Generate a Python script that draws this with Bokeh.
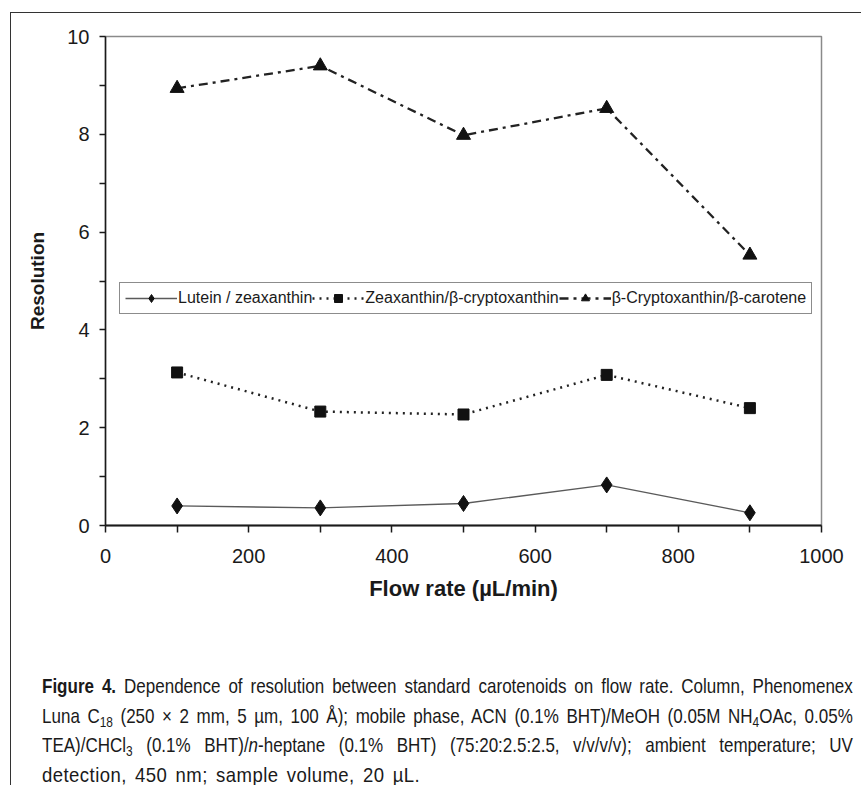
from bokeh.plotting import figure
from bokeh.models import FixedTicker, Legend, LegendItem, Div
from bokeh.layouts import column
from bokeh.embed import file_html
from bokeh.resources import INLINE

# Resolution between neighbouring carotenoid peaks at each flow rate
flow_rate = [100, 300, 500, 700, 900]
lutein_zeaxanthin = [0.40, 0.36, 0.45, 0.83, 0.26]
zeaxanthin_cryptoxanthin = [3.13, 2.33, 2.27, 3.08, 2.40]
cryptoxanthin_carotene = [8.94, 9.40, 7.98, 8.53, 5.53]

series_labels = [
    "Lutein / zeaxanthin",
    "Zeaxanthin/\u03b2-cryptoxanthin",
    "\u03b2-Cryptoxanthin/\u03b2-carotene",
]

x_major = [0, 200, 400, 600, 800, 1000]
x_minor = [100, 300, 500, 700, 900]
y_major = [0, 2, 4, 6, 8, 10]
y_minor = [1, 3, 5, 7, 9]

FONT = "Liberation Sans"

p = figure(
    width=850, height=615,
    x_range=(0, 1000), y_range=(0, 10),
    output_backend="svg", toolbar_location=None,
    min_border_left=94, min_border_right=40,
    min_border_top=23, min_border_bottom=103,
    background_fill_color="white", border_fill_color="white",
)
p.xgrid.visible = False
p.ygrid.visible = False
p.outline_line_color = "#8a8a8a"
p.outline_line_width = 1.5

# x axis
xa = p.xaxis[0]
xa.ticker = FixedTicker(ticks=x_major, minor_ticks=x_minor)
xa.axis_label = "Flow rate (\u00b5L/min)"
xa.axis_label_text_font = FONT
xa.axis_label_text_font_style = "bold"
xa.axis_label_text_font_size = "22px"
xa.axis_label_text_color = "#1a1a1a"
xa.axis_label_standoff = 10
xa.major_label_text_font = FONT
xa.major_label_text_font_size = "20px"
xa.major_label_text_color = "#1a1a1a"
xa.major_label_standoff = 16
xa.axis_line_color = "#1a1a1a"
xa.axis_line_width = 2.2
xa.major_tick_line_color = "#1a1a1a"
xa.minor_tick_line_color = "#1a1a1a"
xa.major_tick_line_width = 1.5
xa.minor_tick_line_width = 1.5
xa.major_tick_in = 0
xa.major_tick_out = 7
xa.minor_tick_in = 0
xa.minor_tick_out = 7

# y axis
ya = p.yaxis[0]
ya.ticker = FixedTicker(ticks=y_major, minor_ticks=y_minor)
ya.axis_label = "Resolution"
ya.axis_label_text_font = FONT
ya.axis_label_text_font_style = "bold"
ya.axis_label_text_font_size = "19px"
ya.axis_label_text_color = "#1a1a1a"
ya.axis_label_standoff = 16
ya.major_label_text_font = FONT
ya.major_label_text_font_size = "20px"
ya.major_label_text_color = "#1a1a1a"
ya.major_label_standoff = 10
ya.axis_line_color = "#1a1a1a"
ya.axis_line_width = 1.5
ya.major_tick_line_color = "#1a1a1a"
ya.minor_tick_line_color = "#1a1a1a"
ya.major_tick_line_width = 1.5
ya.minor_tick_line_width = 1.5
ya.major_tick_in = 0
ya.major_tick_out = 6
ya.minor_tick_in = 0
ya.minor_tick_out = 6

# series
l1 = p.line(flow_rate, lutein_zeaxanthin, line_color="#5a5a5a", line_width=1.3)
m1 = p.scatter(flow_rate, lutein_zeaxanthin, marker="diamond", size=16,
               fill_color="#111111", line_color="#111111")
l2 = p.line(flow_rate, zeaxanthin_cryptoxanthin, line_color="#222222",
            line_width=2.5, line_dash="2 5")
m2 = p.scatter(flow_rate, zeaxanthin_cryptoxanthin, marker="square", size=11,
               fill_color="#111111", line_color="#111111")
l3 = p.line(flow_rate, cryptoxanthin_carotene, line_color="#222222",
            line_width=2.3, line_dash="9 5 3 5")
m3 = p.scatter(flow_rate, cryptoxanthin_carotene, marker="triangle", size=14,
               fill_color="#111111", line_color="#111111")

legend = Legend(
    items=[
        LegendItem(label=series_labels[0], renderers=[l1, m1]),
        LegendItem(label=series_labels[1], renderers=[l2, m2]),
        LegendItem(label=series_labels[2], renderers=[l3, m3]),
    ],
    orientation="horizontal",
    location=(14, 211),
    label_text_font=FONT,
    label_text_font_style="normal",
    label_text_font_size="16px",
    label_text_color="#1a1a1a",
    glyph_width=52,
    glyph_height=20,
    label_standoff=1,
    spacing=0,
    padding=5,
    margin=0,
    border_line_color="#1a1a1a",
    border_line_width=1.5,
    background_fill_color="white",
    background_fill_alpha=1.0,
)
p.add_layout(legend)

caption_lines = [
    "<b>Figure 4.</b> Dependence of resolution between standard carotenoids on flow rate. Column, Phenomenex",
    "Luna C<sub>18</sub> (250 \u00d7 2 mm, 5 \u00b5m, 100 \u00c5); mobile phase, ACN (0.1% BHT)/MeOH (0.05M NH<sub>4</sub>OAc, 0.05%",
    "TEA)/CHCl<sub>3</sub> (0.1% BHT)/<i>n</i>-heptane (0.1% BHT) (75:20:2.5:2.5, v/v/v/v); ambient temperature; UV",
    "detection, 450 nm; sample volume, 20 \u00b5L.",
]

# The caption face is a narrow one: a regular sans set large, then squeezed
# horizontally so the justified block is 811 px across.
SQUEEZE = 0.81
inner_width = round(811 / SQUEEZE)

line_style = (
    "white-space:nowrap; text-align:justify; text-align-last:justify; "
    "height:29.5px; line-height:29.5px;"
)
last_style = "white-space:nowrap; text-align:left; height:29.5px; line-height:29.5px;"
last_inner = (
    "display:inline-block; transform:scaleX(1.09); transform-origin:0 0; "
    "letter-spacing:0.5px; word-spacing:3px;"
)
rows = []
for i, ln in enumerate(caption_lines):
    if i == len(caption_lines) - 1:
        rows.append(f'<div style="{last_style}"><span style="{last_inner}">{ln}</span></div>')
    else:
        rows.append(f'<div style="{line_style}">{ln}</div>')

caption_html = (
    f'<div style="margin-left:26px; margin-top:38px; width:{inner_width}px; '
    f"transform:scaleX({SQUEEZE}); transform-origin:0 0; "
    "font-family:'Liberation Sans',Arial,sans-serif; "
    'font-size:21px; color:#1a1a1a;">'
    '<style>sub{font-size:70%; vertical-align:-0.25em; line-height:0;}</style>'
    + "".join(rows)
    + "</div>"
)
cap = Div(text=caption_html, width=850, height=160)

page = column(
    p, cap,
    margin=(12, 0, 0, 10),
    styles={"border-left": "1.5px solid #333", "border-top": "1.5px solid #333"},
)

open("out.html", "w").write(file_html(page, INLINE))
